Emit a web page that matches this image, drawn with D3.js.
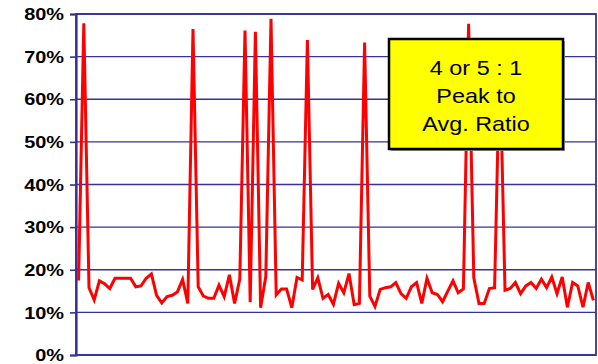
<!DOCTYPE html>
<html><head><meta charset="utf-8">
<script src="https://cdn.jsdelivr.net/npm/d3@7"></script>
<style>html,body{margin:0;padding:0;background:#fff;overflow:hidden}</style>
</head><body>
<svg id="c" width="598" height="364"></svg>
<script>
const values = [17.5,77.8,15.8,12.9,17.4,16.7,15.6,18.0,18.0,18.0,
18.0,16.0,16.2,18.0,19.0,14.0,12.2,13.7,14.0,14.8,
17.7,12.1,76.5,16.0,13.8,13.3,13.3,16.4,13.7,18.8,
12.1,17.8,76.1,12.4,75.8,11.1,18.4,78.9,14.1,15.5,
15.5,11.1,18.2,17.6,73.9,15.4,18.1,13.3,14.2,11.9,
16.8,14.6,19.1,11.8,12.1,73.3,13.8,11.4,15.4,15.8,
16.0,17.0,14.4,13.3,16.0,17.0,12.1,18.0,14.6,14.2,
12.5,15.0,17.4,14.6,15.5,77.7,18.1,12.1,12.1,15.6,
15.8,70.0,15.2,15.6,17.0,14.4,16.2,17.0,15.6,17.8,
15.8,18.3,14.4,18.3,11.2,17.0,16.2,11.2,17.0,12.8];
const categories = values.map((d,i)=>i+1);
const yTicks = [0,10,20,30,40,50,60,70,80];
const calloutLines = ["4 or 5 : 1","Peak to","Avg. Ratio"];

const svg = d3.select("#c");
const L=76, R=596, T=14, B=355;
const x = d3.scaleBand().domain(categories).range([L,R]);
const y = d3.scaleLinear().domain([0,80]).range([B,T]);
const navy = "#333399";
const sx = 1.17;

// gridlines
svg.append("g").selectAll("line").data(yTicks).join("line")
  .attr("x1",L).attr("x2",R).attr("y1",d=>y(d)).attr("y2",d=>y(d))
  .attr("stroke",navy).attr("stroke-width",1.4);
// border
svg.append("rect").attr("x",L).attr("y",T).attr("width",R-L).attr("height",B-T)
  .attr("fill","none").attr("stroke",navy).attr("stroke-width",1.8);
// left axis
const ax = svg.append("g").attr("transform",`translate(${L},0)`)
  .call(d3.axisLeft(y).tickValues(yTicks).tickSize(6).tickFormat(""));
ax.selectAll("line").attr("stroke",navy).attr("stroke-width",1.6);
ax.select(".domain").attr("stroke",navy).attr("stroke-width",2.2);
// labels
svg.append("g").selectAll("text").data(yTicks).join("text")
  .attr("transform",d=>`translate(64,${y(d)}) scale(${sx},1)`)
  .attr("text-anchor","end").attr("dy","0.36em")
  .attr("font-family","Liberation Sans, Arial, sans-serif")
  .attr("font-weight","bold").attr("font-size",17).attr("fill","#000")
  .text(d=>d+"%");

// line
const line = d3.line().x((d,i)=>x(categories[i])+x.bandwidth()/2).y(d=>y(d));
svg.append("path").datum(values).attr("d",line)
  .attr("fill","none").attr("stroke","#ff0000").attr("stroke-width",3)
  .attr("stroke-linejoin","miter");

// callout
const bx=389, by=39, bw=174, bh=110;
svg.append("rect").attr("x",bx+2).attr("y",by+2).attr("width",bw).attr("height",bh).attr("fill","#999");
svg.append("rect").attr("x",bx).attr("y",by).attr("width",bw).attr("height",bh)
  .attr("fill","#ffff00").attr("stroke","#000").attr("stroke-width",2.5);
svg.append("g").selectAll("text").data(calloutLines).join("text")
  .attr("transform",(d,i)=>`translate(${bx+bw/2},${75+i*28}) scale(${sx},1)`)
  .attr("text-anchor","middle")
  .attr("font-family","Liberation Sans, Arial, sans-serif")
  .attr("font-size",20).attr("fill","#000")
  .text(d=>d);
</script>
</body></html>
